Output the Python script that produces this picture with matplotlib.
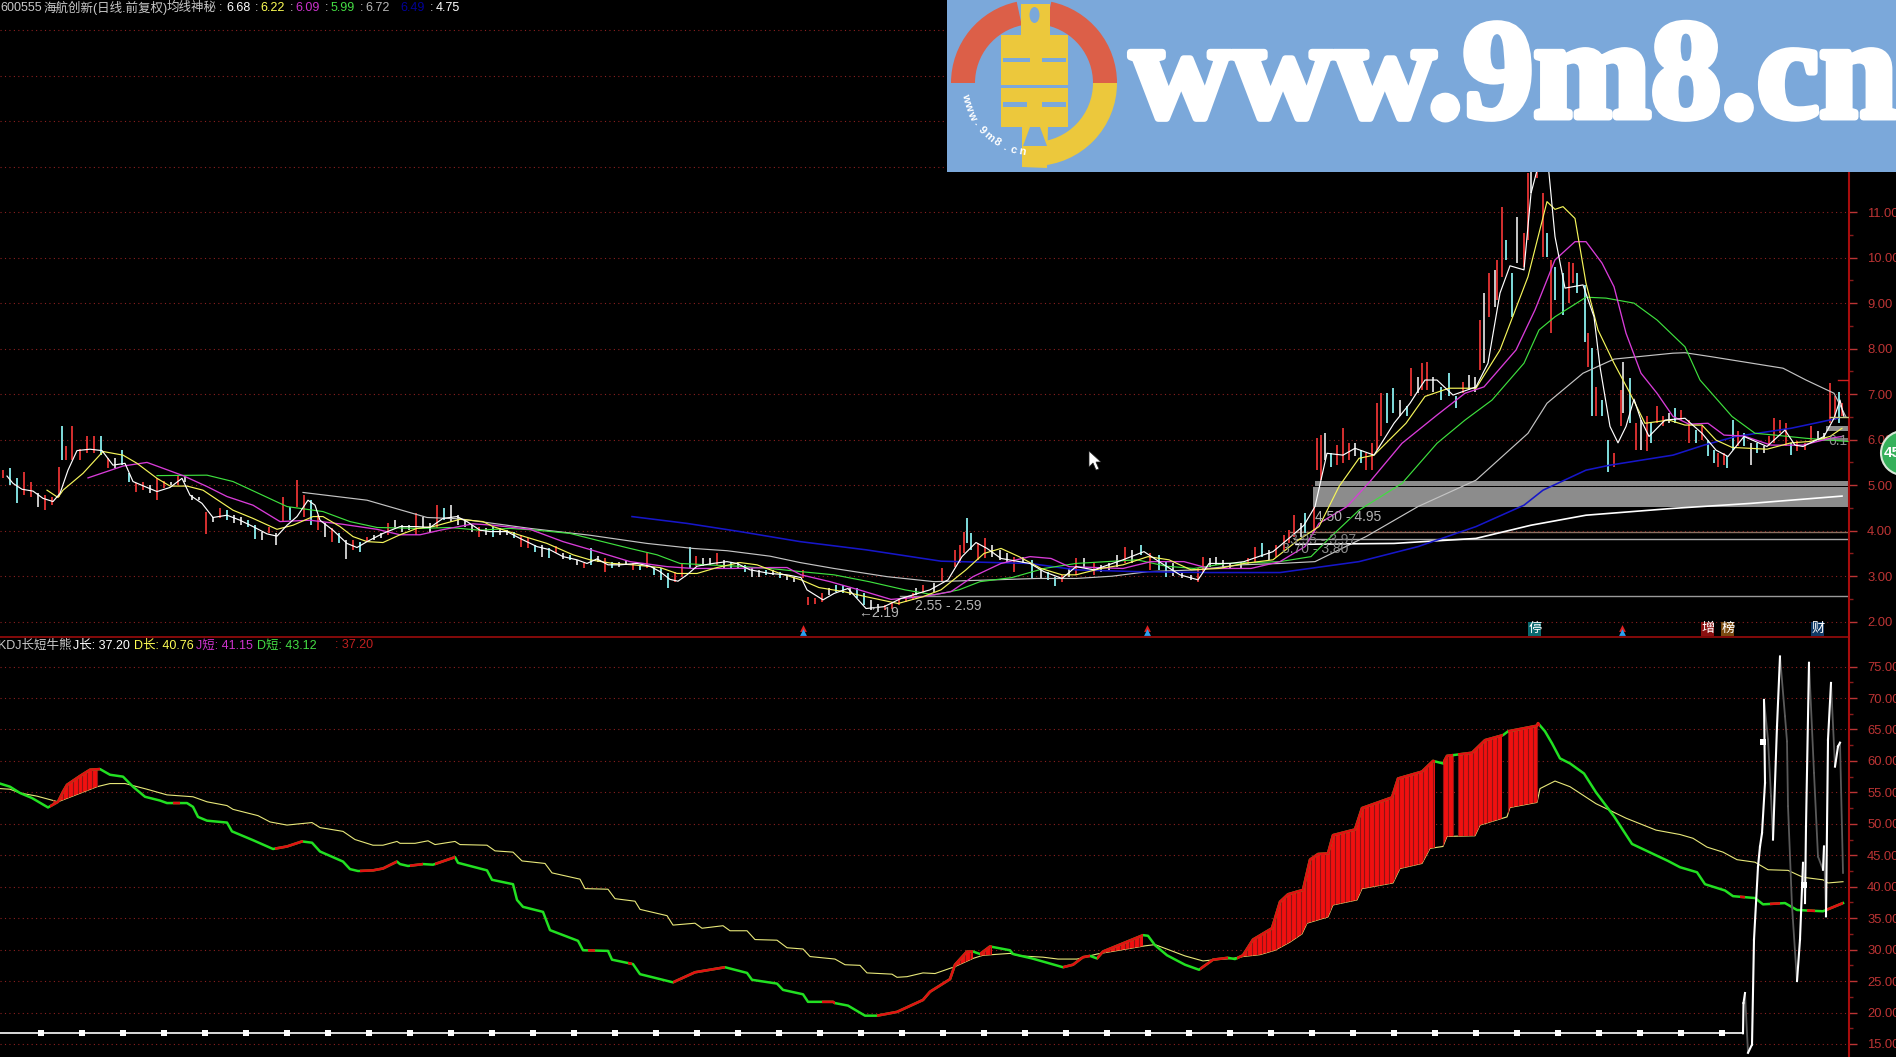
import numpy as np
import matplotlib
matplotlib.use("Agg")
import matplotlib.pyplot as plt
import matplotlib.patheffects as pe
from matplotlib.patches import Rectangle, Wedge, Polygon, Ellipse, Circle

plt.rcParams['font.family'] = ['Liberation Sans', 'Noto Sans CJK SC', 'DejaVu Sans']

# price bars, x is the screen position of the bar
bar_x = [3,10,17,24,31,38,45,52,59,62,66,72,80,87,94,101,108,115,122,129,136,143,150,157,164,171,178,185,192,199,206,213,220,227,234,241,248,255,262,269,276,283,290,297,304,311,318,325,332,339,346,353,360,367,374,381,388,395,402,409,416,423,430,437,444,451,458,465,472,479,486,493,500,
    507,514,521,528,535,542,549,556,563,570,577,584,591,598,605,612,619,626,633,640,647,654,661,668,675,682,690,696,703,710,717,724,731,738,745,752,759,766,773,780,787,794,
    803,808,815,822,829,836,843,850,857,864,871,878,885,892,899,906,913,
    916,923,934,942,955,960,964,967,971,978,985,992,1000,1007,1014,1023,1032,1041,1048,1055,1062,1069,1076,1084,1094,1101,1109,1117,1125,1132,1141,1150,1159,1166,1173,1182,1191,1198,1203,1210,1216,1223,1230,1241,1248,1255,1262,1269,1276,1284,1289,1294,1301,1305,1314,
    1317,1321,1325,1331,1337,1343,1349,1355,1361,1366,1372,1377,1381,1387,1393,1400,1407,1411,1418,1422,1427,1433,1441,1449,1456,1463,1469,1475,1480,1484,1489,1495,1497,1502,1506,1512,1517,1524,1528,1531,1537,1543,1547,1551,1555,1563,1569,1573,1577,1585,1588,1592,1596,1602,1608,1614,1621,1623,1630,1636,1641,1647,1651,1657,1663,1669,1675,1681,1689,1696,1702,1708,1714,1718,1724,1727,1733,1738,1744,1751,1757,1764,1769,1774,1780,1786,1791,1797,1805,1811,1818,1824,1830,1835,1839,1842]
bar_hi = [5.33,5.37,5.15,5.3,5.08,4.82,4.78,4.75,5.4,6.3,5.85,6.3,5.8,6.07,6.07,6.07,5.59,5.59,5.77,5.26,5.04,5.08,5,5.15,5.1,5.08,5.22,5.19,4.78,4.75,4.42,4.31,4.49,4.45,4.34,4.31,4.23,4.12,3.98,4.09,3.94,4.73,4.53,5.11,4.78,4.67,4.34,4.16,4.05,3.94,3.79,3.79,3.76,3.87,3.9,3.94,4.16,4.23,4.12,4.12,4.38,4.31,4.16,4.56,4.49,4.56,4.34,4.23,4.12,4.09,4.05,4.09,4.05,
    4.01,3.98,3.9,3.83,3.68,3.68,3.61,3.66,3.5,3.47,3.36,3.28,3.61,3.44,3.39,3.32,3.32,3.36,3.28,3.25,3.5,3.21,3.17,3.06,3.1,3.28,3.65,3.44,3.41,3.41,3.5,3.36,3.32,3.32,3.25,3.19,3.14,3.14,3.13,3.1,3.03,2.99,
    3.14,2.55,2.51,2.62,2.73,2.81,2.81,2.73,2.73,2.62,2.48,2.4,2.37,2.44,2.51,2.55,2.62,
    2.73,2.81,2.84,3.17,3.58,3.68,3.98,4.27,3.94,3.72,3.83,3.68,3.58,3.5,3.43,3.43,3.36,3.17,3.1,2.99,3.03,3.17,3.39,3.39,3.28,3.25,3.28,3.47,3.65,3.58,3.68,3.5,3.47,3.32,3.28,3.1,3.03,3.17,3.43,3.39,3.43,3.36,3.28,3.32,3.39,3.65,3.72,3.58,3.68,3.9,4.01,4.34,4.16,4.38,4.53,
    6.03,6.1,6.14,5.7,5.88,6.25,5.92,5.92,5.77,5.7,5.92,6.8,7.02,7.02,7.13,6.87,6.73,7.57,7.38,7.68,7.71,7.38,7.16,7.46,6.95,7.27,7.42,7.38,8.63,9.22,9.66,9.73,9.95,11.12,10.39,9.66,10.9,10.53,11.85,12.8,12.8,11.41,10.53,9.95,9.8,9.66,9.91,9.88,9.66,9.4,8.34,8.01,7.16,6.87,5.99,5.7,7.09,7.71,7.35,6.36,6.43,6.51,6.36,6.73,6.51,6.58,6.69,6.65,6.43,6.21,6.29,5.99,5.77,5.7,5.7,5.63,6.43,6.18,6.14,5.92,5.92,5.85,6.07,6.47,6.43,6.36,5.92,5.96,5.92,6.29,6.18,6.14,7.24,6.95,7.05,6.8]
bar_lo = [5.15,5.0,4.6,4.78,4.75,4.53,4.45,4.56,4.75,5.55,5.55,5.55,5.55,5.7,5.7,5.66,5.37,5.37,5.44,5.08,4.84,4.89,4.82,4.67,4.93,5.0,5.0,5.08,4.67,4.67,3.93,4.2,4.27,4.23,4.16,4.12,4.09,3.81,3.79,3.94,3.69,4.2,4.23,4.53,4.31,4.12,4.01,3.87,3.76,3.72,3.37,3.58,3.54,3.76,3.79,3.83,3.9,4.05,3.98,4.01,3.9,4.05,3.94,4.05,4.23,4.2,4.12,4.09,3.98,3.87,3.9,3.87,3.9,
    3.9,3.83,3.65,3.61,3.54,3.43,3.39,3.5,3.37,3.36,3.25,3.17,3.25,3.32,3.1,3.17,3.21,3.25,3.14,3.14,3.17,3.03,2.92,2.73,2.88,2.99,3.17,3.22,3.22,3.25,3.25,3.19,3.19,3.17,3.1,2.99,2.99,3.03,3.03,2.96,2.92,2.88,
    2.95,2.37,2.4,2.44,2.59,2.66,2.62,2.59,2.51,2.37,2.26,2.22,2.26,2.29,2.37,2.44,2.48,
    2.59,2.62,2.66,2.88,3.21,3.28,3.5,3.72,3.58,3.36,3.39,3.43,3.36,3.32,3.1,3.28,2.95,2.95,2.92,2.78,2.88,2.99,3.03,3.17,3.03,3.1,3.14,3.21,3.28,3.28,3.47,3.14,3.14,2.99,3,2.95,2.92,2.88,3.1,3.21,3.25,3.21,3.17,3.17,3.25,3.32,3.43,3.36,3.43,3.58,3.72,3.87,3.87,3.94,3.98,
    5.33,5.11,5.55,5.41,5.44,5.48,5.55,5.63,5.48,5.33,5.33,5.77,6.07,6.36,6.58,6.51,6.51,6.95,7.02,7.09,7.09,7.05,6.87,6.95,6.69,7.02,7.09,7.05,7.53,7.68,8.7,8.92,9.07,9.58,9.95,8.7,9.88,9.8,10.39,11.41,11.75,10.02,10.02,8.34,9.07,8.74,9,9.44,9.22,8.15,7.6,6.51,6.51,6.51,5.3,5.41,6.29,6.58,6.36,5.77,5.77,5.74,5.92,6.36,6.29,6.36,6.36,6.43,5.92,5.92,5.99,5.63,5.48,5.41,5.44,5.37,5.77,5.85,5.85,5.44,5.7,5.7,5.85,5.92,6.14,5.85,5.66,5.74,5.77,5.99,5.99,5.99,6.36,6.43,6.36,6.51]
bar_kind = ("rccrrwrrrcrrrrrcrwccrrwrrwrwwwrwrcwwccwrwrcrrcrwrcwrcrwwrwwwrwwrcwwwwrwcw"
    "wcrrcwcrwcwrcwrcwwrcrcccrrcrwwrwcwcwwcwcww"
    "rrrrwccwccwwrrrrr"
    "wrwrrrrccrrwwwrwcwccrwrwrwwwrwcrccwwwrrwwwwwrrcwrrrrwcr"
    "rrwcrrrwcrrrrccwcrwrrwcccrwwrwrwrrccwrrwrrcrccrrccrcrccrrwcrwrcrrwcrrcrccrrccrcwcwrrrrcrrrwwrrcr")

# moving averages on the price panel
ma1_x = [7,13,22,33,43,53,60,68,77,90,102,113,125,133,147,157,170,182,190,202,213,227,240,253,267,277,287,297,308,315,320,333,347,357,367,383,400,417,430,443,457,467,480,490,507,520,537,550,563,577,587,597,608,620,637,650,660,670,678,687,697,713,727,737,750,770,787,801,807,823,834,848,866,884,901,930,948,962,976,987,1001,1030,1044,1062,1076,1094,1123,1144,1159,1180,1198,1209,1230,1244,1273,1291,1304,1315,1327,1343,1355,1374,1394,1410,1425,1437,1453,1476,1488,1500,1510,1524,1531,1545,1549,1555,1565,1583,1594,1600,1610,1618,1626,1634,1641,1649,1665,1685,1702,1716,1728,1744,1767,1785,1795,1803,1824,1834,1840,1844]
ma1_y = [5.2,5.04,4.91,4.87,4.71,4.64,4.82,5.33,5.76,5.79,5.76,5.44,5.48,5.08,4.95,4.86,4.95,5.15,4.78,4.6,4.29,4.34,4.23,4.09,3.93,3.88,4.12,4.31,4.67,4.56,4.23,4.01,3.72,3.63,3.76,3.94,4.09,4.09,4.07,4.27,4.31,4.2,4.01,3.98,3.98,3.83,3.65,3.58,3.43,3.36,3.28,3.38,3.25,3.25,3.28,3.22,3.1,2.93,2.89,3.03,3.22,3.28,3.32,3.28,3.14,3.06,3.03,2.97,2.7,2.48,2.62,2.73,2.29,2.33,2.51,2.7,2.92,3.43,3.74,3.61,3.39,3.28,3.1,2.95,3.21,3.14,3.36,3.54,3.32,3.03,2.92,3.28,3.28,3.32,3.54,3.87,4.12,4.53,5.7,5.66,5.81,5.66,6.36,6.8,7.31,7.31,6.98,7.16,7.68,9.22,9.82,9.73,11.41,12.6,11.85,10.46,9.33,9.4,8.7,7.6,6.29,5.93,6.29,6.89,6.43,6.07,6.43,6.47,6.14,5.77,5.63,6.07,5.85,6.21,5.88,5.85,6.07,6.47,6.87,6.5]

ma2_x = [47,58,63,83,103,123,137,157,170,187,203,220,233,253,277,293,313,323,340,353,367,383,400,417,433,460,483,493,520,547,573,590,613,633,660,677,697,717,740,757,780,801,819,844,866,898,923,941,966,984,1001,1019,1041,1062,1076,1101,1123,1148,1169,1191,1219,1244,1273,1298,1319,1339,1359,1374,1406,1425,1449,1476,1500,1528,1547,1555,1563,1575,1586,1598,1614,1630,1645,1669,1685,1702,1716,1732,1767,1791,1810,1830,1842]
ma2_y = [4.89,4.73,4.89,5.26,5.74,5.66,5.48,5.15,4.98,4.98,4.89,4.64,4.45,4.27,4.03,4.12,4.31,4.31,4.09,3.87,3.76,3.74,3.91,4.05,4.09,4.25,4.2,4.09,3.9,3.72,3.47,3.36,3.28,3.25,3.19,3.06,3.06,3.19,3.3,3.25,3.06,2.92,2.75,2.66,2.55,2.4,2.55,2.7,3.14,3.5,3.61,3.43,3.17,3.03,3.03,3.17,3.25,3.43,3.36,3.14,3.17,3.28,3.36,3.79,4.09,4.97,5.59,5.66,6.36,6.95,7.13,7.13,7.97,9.58,11.23,11.06,11.12,10.86,9.44,8.41,7.68,7.02,6.36,6.43,6.32,6.32,5.99,5.83,5.79,5.93,5.96,6.07,6.25]

ma3_x = [88,123,147,183,207,227,253,280,310,343,377,400,420,440,473,493,530,563,597,630,667,693,733,770,787,801,830,859,891,923,951,973,1001,1030,1051,1069,1123,1151,1184,1209,1251,1280,1305,1319,1347,1370,1402,1437,1465,1484,1516,1535,1555,1575,1586,1602,1614,1626,1641,1657,1673,1689,1708,1724,1744,1771,1803,1830,1842]
ma3_y = [5.16,5.42,5.5,5.21,4.97,4.75,4.56,4.2,4.23,4.14,4.03,3.91,3.91,4.01,4.15,4.12,4.03,3.76,3.54,3.32,3.21,3.17,3.17,3.19,3.19,3.03,2.88,2.7,2.49,2.55,2.66,2.99,3.28,3.43,3.39,3.21,3.17,3.32,3.32,3.17,3.17,3.32,3.65,4.16,4.53,5.08,5.92,6.54,7.02,7.16,7.97,8.85,9.95,10.35,10.35,9.88,9.36,8.34,7.46,7.02,6.51,6.34,6.36,6.1,6.08,5.88,5.88,6.03,6.07]

ma4_x = [157,207,233,287,323,350,377,420,450,480,510,537,570,597,630,657,680,707,737,770,801,834,869,905,934,959,980,1012,1044,1076,1137,1166,1194,1226,1280,1311,1331,1359,1402,1437,1465,1492,1524,1539,1555,1586,1606,1634,1657,1685,1700,1732,1755,1775,1806,1848]
ma4_y = [5.21,5.22,5.08,4.53,4.42,4.2,4.07,4.05,4.07,4.01,4.05,4.01,3.94,3.79,3.61,3.47,3.28,3.25,3.22,3.17,3.1,3.03,2.88,2.7,2.59,2.7,2.88,2.97,3.17,3.28,3.36,3.22,3.17,3.28,3.32,3.43,3.87,4.45,5.04,5.92,6.43,6.87,7.68,8.41,8.7,9.13,9.11,9,8.63,8.04,7.31,6.51,6.14,6.1,6.03,5.96]

ma5_x = [303,367,427,460,530,590,647,693,727,770,800,834,887,934,994,1037,1076,1112,1148,1198,1241,1280,1315,1366,1418,1476,1528,1547,1583,1614,1673,1685,1712,1783,1806,1834,1846]
ma5_y = [4.84,4.67,4.29,4.26,4.05,3.9,3.72,3.61,3.56,3.44,3.3,3.17,2.99,2.88,2.92,2.95,2.95,3,3.1,3.14,3.25,3.28,3.32,3.87,4.53,5.11,6.14,6.8,7.46,7.77,7.9,7.91,7.82,7.57,7.31,7.02,6.5]

ma6_x = [632,687,740,800,866,941,1030,1076,1137,1209,1280,1359,1418,1476,1524,1543,1586,1610,1673,1704,1736,1791,1838]
ma6_y = [4.31,4.16,3.98,3.76,3.58,3.33,3.28,3.14,3.1,3.08,3.08,3.32,3.65,4.09,4.56,4.89,5.33,5.44,5.66,5.88,6.07,6.25,6.47]

ma7_x = [1296,1394,1476,1531,1586,1673,1751,1842]
ma7_y = [3.7,3.72,3.83,4.12,4.34,4.49,4.6,4.76]

# lower panel, KDJ
j_long_x = [0,10,20,32,48,58,63,67,80,90,100,110,123,133,145,160,167,187,193,198,207,227,232,253,273,287,302,312,320,343,350,358,373,383,397,400,408,423,433,455,458,487,492,513,517,523,543,550,578,583,608,612,633,640,673,695,725,747,752,777,783,803,808,833,835,848,865,877,897,923,930,950,955,967,973,980,990,1010,1013,1032,1063,1073,1083,1090,1097,1103,1143,1148,1155,1167,1185,1199,1213,1228,1235,1243,1253,1272,1280,1288,1303,1310,1318,1328,1333,1355,1362,1392,1398,1422,1433,1443,1447,1472,1485,1503,1508,1537,1538,1545,1552,1560,1570,1584,1596,1614,1632,1668,1680,1697,1705,1725,1733,1755,1763,1785,1797,1823,1843]
j_long_y = [56.4,55.9,54.9,54.1,52.6,53.5,55.1,56.2,57.6,58.6,58.7,57.8,57.5,55.9,54.3,53.7,53.3,53.3,52.7,51.1,50.5,50.2,48.8,47.4,46,46.4,47.2,47,45.6,44,42.8,42.5,42.6,42.9,44,43.6,43.3,43.6,43.5,44.7,43.8,42.6,41.1,40.4,37.9,36.8,36,33.1,31.4,29.9,29.8,28.4,27.7,26.1,24.8,26.4,27.2,26.3,25.2,24.6,23.6,22.9,21.7,21.7,21.5,21.1,19.5,19.5,20.1,22,23.3,25.3,27.6,29.7,29.7,29.3,30.5,29.9,29.3,28.6,27.2,27.6,28.8,29,28.6,29.7,32.3,32.2,30.7,29.1,27.6,26.8,28.4,28.7,28.5,29.1,31.6,33.4,37.6,38.8,39.5,44.3,45.2,45.3,48.2,49.1,52.5,54.2,57.2,58.3,60,59.6,60.8,61.3,63.3,64.1,64.7,65.6,66,64.7,62.8,60.4,59.6,58,55,51.2,46.8,44.1,43.1,42.3,40.4,39.4,38.5,38.2,37.2,37.4,36.3,36.1,37.4]

d_long_x = [0,10,20,37,58,97,110,125,147,167,193,207,227,233,258,270,287,312,320,343,355,373,383,397,400,415,428,435,455,460,487,495,513,522,545,552,580,585,608,615,635,640,667,673,695,702,723,730,747,755,777,787,803,810,835,845,860,867,892,897,907,923,935,955,973,983,1010,1020,1043,1058,1077,1097,1145,1155,1185,1203,1215,1233,1243,1260,1275,1290,1302,1307,1328,1333,1357,1362,1393,1400,1422,1430,1443,1447,1475,1480,1507,1510,1537,1540,1555,1570,1596,1626,1656,1680,1693,1707,1723,1737,1755,1768,1788,1803,1823,1828,1843]
d_long_y = [55.6,55.5,54.9,54.4,53.5,55.9,56.4,56.4,55.5,54.6,54.3,53.5,52.9,52.3,51.3,50.3,49.8,50.2,49.4,48.8,47.5,46.6,46.6,47.2,46.9,46.9,47.3,46.7,47.2,46.7,46.6,45.7,45.5,44.1,43.7,42.2,41.2,39.7,39.6,38.1,37.7,36.4,35.4,33.9,34.2,33.4,33.8,33,33,31.6,31.5,30.3,30.1,28.9,28.5,27.6,27.5,26.3,26.1,25.6,25.7,26.3,26.2,27.3,28.6,29.1,29.4,29,28.8,28.5,28.5,29.3,30.6,30.8,29,28.2,28.4,28.6,28.9,29.2,29.9,31.2,32.5,34.2,35.2,37.1,37.9,39.7,40.6,42.9,43.7,46.1,46.4,48,48.1,49.8,51.1,52.6,53.4,55.6,56.8,55.9,53.2,50.9,49,48.3,47.7,46.3,45.5,44.3,43.9,42.7,42.6,41.5,41.1,40.6,40.8]

kdj_x = [1743,1743.5,1745,1748,1752,1754,1758,1760,1762,1765,1764,1768,1771,1773,1777,1780,1785,1787,1788,1792,1797,1800,1803,1805,1806,1809,1809,1814,1818,1823,1824,1826,1828,1831,1835,1838,1840,1843]
kdj_y = [16.7,21.5,23.1,13.6,14.9,31.6,43.2,46.4,48.5,56.5,69.7,63.4,54.4,47.5,65.5,76.6,67.1,63.1,52.8,36.9,25,31.6,43.8,37.4,49.6,75.6,75.6,58.1,44.8,42.7,46.4,35.3,63.4,72.4,59.1,62.3,62.9,42.2]

flat_x = [0,1743]
flat_y = [16.7,16.7]
dot_y = [16.7]*42 + [63,40.3]

red_from = [50,173,275,360,410,435,588,628,673,822,877,980,1063,1097,1200,1237,1443,1458,1508,1740,1770,1807,1827]
red_to = [100,180,303,397,423,455,595,632,725,835,973,992,1090,1143,1228,1435,1453,1503,1540,1745,1780,1815,1843]
fill_from = [53,955,980,1100,1237,1443,1458,1508]
fill_to = [98,973,992,1143,1435,1453,1502,1538]

price_ticks = [2,3,4,5,6,7,8,9,10,11]
price_grid = list(range(2,16))
kdj_ticks = list(range(15,80,5))

W, H = 1896, 1057
RED = '#bc3434'
fig = plt.figure(figsize=(W/100, H/100), dpi=100, facecolor='black')
ax1 = fig.add_axes([0, 420/H, 1849/W, 637/H], facecolor='black')
ax2 = fig.add_axes([0, 0, 1849/W, 420/H], facecolor='black')
ax1.set_xlim(0, 1849)
ax2.set_xlim(0, 1849)
ax1.set_ylim(1.664, 15.66)
ax2.set_ylim(12.93, 79.7)

for ax in (ax1, ax2):
    for s in ('left', 'top', 'bottom'):
        ax.spines[s].set_visible(False)
    ax.spines['right'].set_color('#a80c0c')
    ax.spines['right'].set_linewidth(1.5)
    ax.set_xticks([])
    ax.yaxis.tick_right()
ax2.spines['top'].set_visible(True)
ax2.spines['top'].set_color('#a80c0c')
ax2.spines['top'].set_linewidth(1.1)

ax1.set_yticks(price_ticks)
ax1.set_yticks([t + 0.5 for t in price_ticks[:-1]], minor=True)
ax2.set_yticks(kdj_ticks)
ax2.set_yticks([t + 2.5 for t in kdj_ticks[:-1]], minor=True)
for ax in (ax1, ax2):
    ax.set_yticklabels(['%.2f' % t for t in ax.get_yticks()])
    ax.tick_params(axis='y', which='major', colors=RED, length=6, width=1, pad=7, labelsize=9.4)
    ax.tick_params(axis='y', which='minor', colors='#8a1a1a', length=3, width=1)

dots = (0, (1, 3))
for p in price_grid:
    ax1.axhline(p, color='#8c2020', lw=0.8, ls=dots, zorder=1)
for p in kdj_ticks:
    ax2.axhline(p, color='#8c2020', lw=0.8, ls=dots, zorder=1)

# support zones
ax1.fill_between([1313, 1849], 4.53, 4.97, color='#8c8c8c', lw=0, zorder=2)
ax1.fill_between([1315, 1849], 4.98, 5.09, color='#8c8c8c', lw=0, zorder=2)
ax1.fill_between([1826, 1849], 6.2, 6.29, color='#8c8c8c', lw=0, zorder=2)
ax1.fill_between([1818, 1849], 5.96, 6.03, color='#777777', lw=0, zorder=2)
ax1.plot([900, 1849], [2.57, 2.57], color='#9a9a9a', lw=1, zorder=2)
ax1.plot([1290, 1849], [3.98, 3.98], color='#8a7060', lw=1, zorder=2)
ax1.plot([1294, 1849], [3.81, 3.81], color='#aaaaaa', lw=1, zorder=2)
ax1.plot([1830, 1849], [6.49, 6.49], color='#c8c880', lw=1, zorder=6)
ax1.plot([1838, 1848], [7.3, 7.3], color='#d02020', lw=1, zorder=6)

# bars
assert len(bar_x) == len(bar_hi) == len(bar_lo) == len(bar_kind)
bar_colors = {'r': '#d63030', 'c': '#7fdcdc', 'w': '#c8c8c8'}
ax1.vlines(bar_x, bar_lo, bar_hi, colors=[bar_colors[k] for k in bar_kind], lw=1.4, zorder=3)

ax1.plot(ma5_x, ma5_y, color='#c4c4c4', lw=0.85, zorder=4)
ax1.plot(ma7_x, ma7_y, color='#ffffff', lw=1.2, zorder=4)
ax1.plot(ma6_x, ma6_y, color='#1616c8', lw=1.15, zorder=4)
ax1.plot(ma4_x, ma4_y, color='#3ee03e', lw=0.85, zorder=4)
ax1.plot(ma3_x, ma3_y, color='#d83cd8', lw=0.95, zorder=4)
ax1.plot(ma2_x, ma2_y, color='#f5f55a', lw=0.85, zorder=5)
ax1.plot(ma1_x, ma1_y, color='#ffffff', lw=0.85, zorder=5)

flag_x = [803, 1147, 1622]
ax1.scatter(flag_x, [1.87]*3, marker='^', s=24, color='#e02020', lw=0, zorder=6)
ax1.scatter(flag_x, [1.77]*3, marker='^', s=24, color='#2aa0f0', lw=0, zorder=6)

label_c = '#b4b4b4'
ax1.text(858, 2.19, '\u21902.19', color=label_c, fontsize=10, va='center', zorder=7)
ax1.text(915, 2.35, '2.55 - 2.59', color=label_c, fontsize=10, va='center', zorder=7)
ax1.text(1315, 4.3, '4.50 - 4.95', color=label_c, fontsize=10, va='center', zorder=7)
ax1.text(1290, 3.8, '3.95 - 3.97', color='#808080', fontsize=10, va='center', zorder=7)
ax1.text(1282, 3.6, '3.70 - 3.80', color='#909090', fontsize=10, va='center', zorder=7)
ax1.text(1828, 5.97, '6.1', color='#909090', fontsize=10, va='center', zorder=7)

# red band between the two long lines, cut to the spans where J is above D
band_x = np.concatenate([j_long_x, d_long_x[::-1]])
band_y = np.concatenate([j_long_y, d_long_y[::-1]])
band_clip = Polygon(np.column_stack([band_x, band_y]), transform=ax2.transData)
for a, b in zip(fill_from, fill_to):
    p = ax2.fill(band_x, band_y, color='#f01010', lw=0, zorder=3)[0]
    p.set_clip_path(Rectangle((a, 0), b - a, 100, transform=ax2.transData))
    st = ax2.vlines(np.arange(a, b, 4.9), 0, 100, colors='#8e1414', lw=0.8, zorder=4)
    st.set_clip_path(band_clip)

ax2.plot(d_long_x, d_long_y, color='#e8e87a', lw=0.8, zorder=2)
ax2.plot(j_long_x, j_long_y, color='#22e022', lw=1.8, zorder=5)
for a, b in zip(red_from, red_to):
    l = ax2.plot(j_long_x, j_long_y, color='#e01212', lw=1.9, zorder=6)[0]
    l.set_clip_path(Rectangle((a, 0), b - a, 100, transform=ax2.transData))

ax2.plot(flat_x, flat_y, color='white', lw=1.2, zorder=5)
for i in range(len(kdj_x) - 1):
    up = kdj_y[i + 1] > kdj_y[i]
    ax2.plot(kdj_x[i:i + 2], kdj_y[i:i + 2], color='white' if up else '#5a5a5a',
             lw=1.5 if up else 1.3, zorder=7 if up else 6)
ax2.plot(40.7 + 41 * np.arange(len(dot_y)), dot_y, ls='none', marker='s', ms=4,
         color='white', mew=0, zorder=8)

# overlay in screen pixels for the header text, logo and small tags
over = fig.add_axes([0, 0, 1, 1])
over.set_xlim(0, W)
over.set_ylim(H, 0)
over.axis('off')
over.patch.set_alpha(0)

def row(items, y):
    for x, s, c in items:
        over.text(x, y, s, color=c, fontsize=9, va='center', ha='left')

row([(0, '600555', '#c8c8c8'), (44, '海航创新(日线.前复权)', '#c8c8c8'), (167, '均线神秘', '#c8c8c8'),
     (219, ':', '#c8c8c8'), (226, '6.68', 'white'), (255, ':', '#c8c8c8'), (260, '6.22', '#ffff55'),
     (290, ':', '#c8c8c8'), (295, '6.09', '#cc33cc'), (325, ':', '#c8c8c8'), (331, '5.99', '#44dd44'),
     (360, ':', '#c8c8c8'), (365, '6.72', '#b8b8b8'), (400, '6.49', '#000099'), (430, ':', '#c8c8c8'),
     (436, '4.75', 'white')], 8)
row([(-2, 'KDJ长短牛熊', '#c8c8c8'), (73, 'J长: 37.20', 'white'), (134, 'D长: 40.76', '#ffff55'),
     (196, 'J短: 41.15', '#cc33cc'), (257, 'D短: 43.12', '#44dd44'), (335, ': 37.20', '#c02020')], 645.5)

tags = [(1535, '停', '#0a6a70'), (1708, '增', '#8a1010'), (1728, '榜', '#7a4a10'), (1818, '财', '#103a66')]
for x, s, c in tags:
    over.add_patch(Rectangle((x - 6.5, 622), 13, 14, color=c, lw=0))
    over.text(x, 629, s, color='white', fontsize=9.5, ha='center', va='center')

# cursor
over.add_patch(Polygon([(1089, 451), (1089, 467), (1093, 463), (1096, 470), (1099, 469), (1096, 462), (1101, 462)],
                       fc='white', ec='#222222', lw=0.5))

# round badge at the right edge
over.add_patch(Circle((1903, 453), 22, fc='#35b05a', ec='#d8e8d8', lw=1.5, clip_on=True))
over.text(1884, 453, '45', color='white', fontsize=11, fontweight='bold', va='center')

# logo
BLUE = '#7ba8da'
YEL = '#ecc83c'
over.add_patch(Rectangle((947, 0), W - 947, 172, color=BLUE, lw=0, zorder=10))
cx, cy = 1034, 83
over.add_patch(Wedge((cx, cy), 83, 180, 258, width=24, color='#dc5f48', lw=0, zorder=11))
over.add_patch(Wedge((cx, cy), 83, 282, 360, width=24, color='#dc5f48', lw=0, zorder=11))
over.add_patch(Wedge((cx, cy), 83, 0, 88, width=24, color=YEL, lw=0, zorder=11))
over.add_patch(Rectangle((1021, 4), 29, 32, color=YEL, lw=0, zorder=12))
over.add_patch(Ellipse((1034.5, 15), 10, 16, color=BLUE, lw=0, zorder=13))
over.add_patch(Rectangle((1001, 35), 67, 92, color=YEL, lw=0, zorder=12))
over.add_patch(Rectangle((1003, 58), 27, 4, color=BLUE, lw=0, zorder=13))
over.add_patch(Rectangle((1042, 58), 24, 4, color=BLUE, lw=0, zorder=13))
over.add_patch(Rectangle((1001, 85), 67, 3, color=BLUE, lw=0, zorder=13))
over.add_patch(Rectangle((1003, 102), 24, 5, color=BLUE, lw=0, zorder=13))
over.add_patch(Rectangle((1042, 102), 24, 5, color=BLUE, lw=0, zorder=13))
over.add_patch(Polygon([(1022, 127), (1048, 127), (1047, 168), (1022, 167)], color=YEL, lw=0, zorder=12))
over.add_patch(Polygon([(1030, 127), (1040, 127), (1047, 146), (1023, 146)], color=BLUE, lw=0, zorder=13))
small = 'www.9m8.cn'
for i, ch in enumerate(small):
    t = np.radians(168 - i * 7.6)
    over.text(cx + 70 * np.cos(t), cy + 70 * np.sin(t), ch, color='white', fontsize=8, fontweight='bold',
              rotation=-(168 - i * 7.6 - 90), ha='center', va='center', zorder=13)
over.text(1130, 117, 'www.9m8.cn', family='Liberation Serif', fontweight='bold', fontsize=101.5, color='white',
          ha='left', va='baseline', zorder=12,
          path_effects=[pe.withStroke(linewidth=5, foreground='white')])

fig.savefig("out.png", dpi=100, facecolor='black')
